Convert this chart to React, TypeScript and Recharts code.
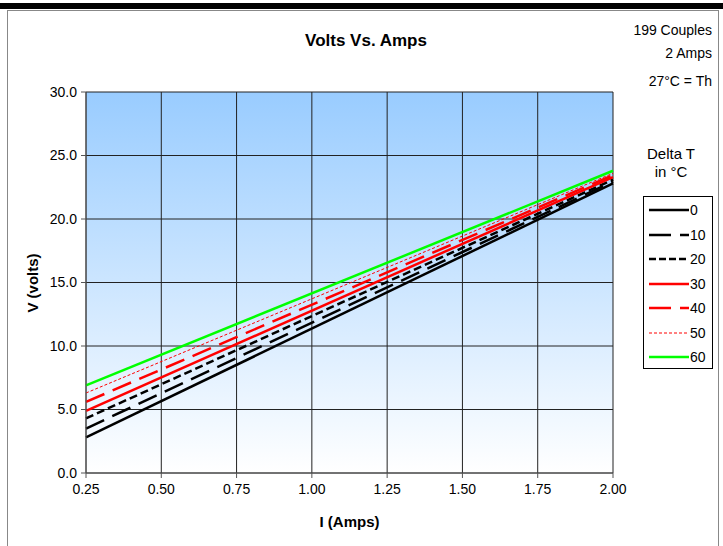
import React from 'react';
import {
  LineChart,
  Line,
  XAxis,
  YAxis,
  CartesianGrid,
  Legend,
} from 'recharts';

const currents = [0.25, 2.0];
const dT0 = [2.8, 22.8];
const dT10 = [3.5, 22.95];
const dT20 = [4.3, 23.1];
const dT30 = [4.9, 23.3];
const dT40 = [5.6, 23.45];
const dT50 = [6.3, 23.6];
const dT60 = [6.9, 23.8];

const xTicks = [0.25, 0.5, 0.75, 1.0, 1.25, 1.5, 1.75, 2.0];
const yTicks = [0, 5, 10, 15, 20, 25, 30];

const data = currents.map((i, k) => ({
  i,
  d0: dT0[k],
  d10: dT10[k],
  d20: dT20[k],
  d30: dT30[k],
  d40: dT40[k],
  d50: dT50[k],
  d60: dT60[k],
}));

const SERIES = [
  { key: 'd0', name: '0', color: '#000000', width: 2.5, dash: undefined },
  { key: 'd10', name: '10', color: '#000000', width: 2.5, dash: '20 9' },
  { key: 'd20', name: '20', color: '#000000', width: 2.5, dash: '8 4' },
  { key: 'd30', name: '30', color: '#ff0000', width: 2.5, dash: undefined },
  { key: 'd40', name: '40', color: '#ff0000', width: 2.5, dash: '20 9' },
  { key: 'd50', name: '50', color: '#ff0000', width: 1, dash: '3 2' },
  { key: 'd60', name: '60', color: '#00ff00', width: 2.5, dash: undefined },
];

const FONT = '"Liberation Sans", Arial, sans-serif';

function LegendBox({ payload }: any) {
  return (
    <div
      style={{
        width: 70,
        height: 173,
        border: '1px solid #000',
        background: '#fff',
        boxSizing: 'border-box',
        paddingTop: 1,
      }}
    >
      {(payload || []).map((p: any) => {
        const s = SERIES.find((x) => x.name === p.value);
        return (
          <div key={p.value} style={{ display: 'flex', alignItems: 'center', height: 24.5 }}>
            <svg width={41} height={10} style={{ marginLeft: 5 }}>
              <line
                x1={0}
                y1={5}
                x2={40}
                y2={5}
                stroke={s?.color}
                strokeWidth={s?.width}
                strokeDasharray={s?.dash === '20 9' ? '22 9' : s?.dash === '8 4' ? '7 3' : s?.dash}
              />
            </svg>
            <span style={{ fontSize: 14, color: '#000', fontFamily: FONT }}>{p.value}</span>
          </div>
        );
      })}
    </div>
  );
}

export default function App() {
  return (
    <div style={{ position: 'absolute', left: 0, top: 0, width: 723, height: 546, background: '#fff', fontFamily: FONT }}>
      <div style={{ position: 'absolute', left: 0, top: 3, width: 723, height: 6, background: '#000' }} />
      <div
        style={{
          position: 'absolute',
          left: 7,
          top: 10,
          width: 712,
          height: 540,
          borderLeft: '1px solid #888',
          borderRight: '1px solid #888',
          borderTop: '1px solid #888',
          boxSizing: 'border-box',
        }}
      />
      <div style={{ position: 'absolute', left: 0, width: 732, top: 31, textAlign: 'center', fontSize: 17, fontWeight: 'bold' }}>
        Volts Vs. Amps
      </div>
      <div style={{ position: 'absolute', right: 11, top: 19, textAlign: 'right', fontSize: 14, lineHeight: '23px' }}>
        <div>199 Couples</div>
        <div>2 Amps</div>
        <div style={{ marginTop: 5 }}>27°C = Th</div>
      </div>
      <div style={{ position: 'absolute', left: 628, width: 86, top: 145, textAlign: 'center', fontSize: 15, lineHeight: '18px' }}>
        <div>Delta T</div>
        <div>in °C</div>
      </div>
      <div
        style={{
          position: 'absolute',
          left: 32,
          top: 283,
          transform: 'translate(-50%, -50%) rotate(-90deg)',
          fontSize: 15,
          fontWeight: 'bold',
          whiteSpace: 'nowrap',
        }}
      >
        V (volts)
      </div>
      <div style={{ position: 'absolute', left: 86, width: 527, top: 513, textAlign: 'center', fontSize: 15, fontWeight: 'bold' }}>
        I (Amps)
      </div>
      <div style={{ position: 'absolute', left: 0, top: 0 }}>
        <LineChart width={723} height={546} data={data} margin={{ top: 92, right: 40, bottom: 43, left: 26 }}>
          <defs>
            <linearGradient id="bg" x1="0" y1="0" x2="0" y2="1">
              <stop offset="0%" stopColor="#99ccff" />
              <stop offset="100%" stopColor="#ffffff" />
            </linearGradient>
          </defs>
          <CartesianGrid stroke="#222" strokeWidth={1} fill="url(#bg)" fillOpacity={1} />
          <XAxis
            dataKey="i"
            type="number"
            domain={[0.25, 2.0]}
            ticks={xTicks}
            tickFormatter={(v: number) => v.toFixed(2)}
            stroke="#555"
            tickSize={5}
            tickMargin={6}
            height={30}
            tick={{ fill: '#000', fontSize: 14, fontFamily: FONT }}
            interval={0}
          />
          <YAxis
            type="number"
            domain={[0, 30]}
            ticks={yTicks}
            tickFormatter={(v: number) => v.toFixed(1)}
            stroke="#555"
            tickSize={5}
            tickMargin={4}
            width={60}
            tick={{ fill: '#000', fontSize: 14, fontFamily: FONT }}
            interval={0}
          />
          {SERIES.map((s) => (
            <Line
              key={s.key}
              dataKey={s.key}
              name={s.name}
              stroke={s.color}
              strokeWidth={s.width}
              strokeDasharray={s.dash}
              dot={false}
              activeDot={false}
              isAnimationActive={false}
            />
          ))}
          <Legend
            layout="vertical"
            align="right"
            verticalAlign="top"
            content={<LegendBox />}
            wrapperStyle={{ position: 'absolute', left: 643, top: 196, width: 70 }}
          />
        </LineChart>
      </div>
    </div>
  );
}
